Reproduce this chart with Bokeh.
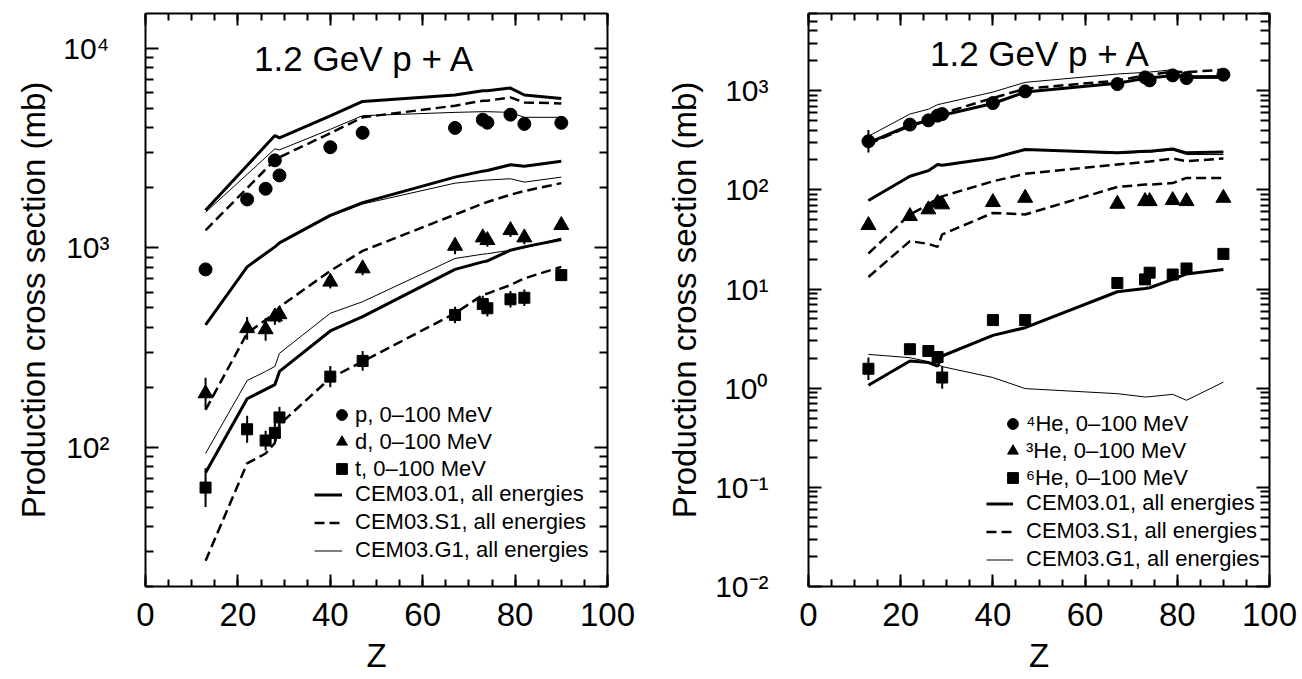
from bokeh.plotting import figure
from bokeh.models import (Range1d, LinearAxis, LogAxis, FixedTicker, SingleIntervalTicker,
                          CustomJSTickFormatter, Legend, LegendItem, Label)
from bokeh.layouts import row
from bokeh.embed import file_html
from bokeh.resources import INLINE

FONT = "Liberation Sans"

# ---------------- data ----------------
Z = [13, 22, 26, 28, 29, 40, 47, 67, 73, 74, 79, 82, 90]

# left panel: p, d, t (experiment, 0-100 MeV)
p_exp = [780, 1750, 1980, 2750, 2310, 3200, 3780, 4000, 4400, 4250, 4660, 4190, 4240]
d_exp = [186, 395, 390, 452, 464, 676, 788, 1023, 1127, 1093, 1226, 1127, 1300]
t_exp = [62.7, 123, 108, 118, 141, 226, 271, 461, 523, 498, 552, 562, 730]
p_err = [0.03, 0.03, 0.03, 0.03, 0.03, 0.03, 0.03, 0.03, 0.03, 0.03, 0.03, 0.03, 0.03]
d_err = [0.20, 0.14, 0.14, 0.10, 0.10, 0.08, 0.08, 0.10, 0.08, 0.08, 0.08, 0.08, 0.05]
t_err = [0.25, 0.17, 0.12, 0.12, 0.13, 0.13, 0.12, 0.10, 0.10, 0.10, 0.10, 0.10, 0.05]

# left panel: models (all energies)
p_01 = [1543, 2591, 3262, 3660, 3565, 4594, 5433, 5851, 6145, 6145, 6339, 5851, 5623]
p_S1 = [1226, 1995, 2477, 2767, 2851, 3763, 4520, 5171, 5477, 5477, 5689, 5370, 5309]
p_G1 = [1508, 2339, 2846, 3140, 3103, 3936, 4608, 4786, 4825, 4825, 4786, 4520, 4520]
d_01 = [411, 803, 938, 1012, 1059, 1457, 1687, 2265, 2427, 2447, 2612, 2570, 2723]
d_S1 = [154, 373, 435, 470, 505, 767, 966, 1469, 1667, 1700, 1849, 1928, 2113]
d_G1 = [411, 803, 938, 1012, 1059, 1440, 1660, 2113, 2181, 2190, 2223, 2138, 2265]
t_01 = [74.5, 175, 195, 206, 240, 383, 452, 780, 851, 860, 974, 1012, 1101]
t_S1 = [26.9, 82.9, 93, 105, 130, 222, 269, 470, 580, 590, 651, 703, 803]
t_G1 = [93, 216, 240, 254, 296, 470, 537, 885, 930, 935, 974, 1000, 1120]

# right panel: 4He, 3He, 6He (experiment, 0-100 MeV)
he4_exp = [309, 455, 502, 560, 581, 750, 984, 1166, 1361, 1270, 1426, 1340, 1449]
he3_exp = [44, 54.2, 63.3, 73.8, 71.1, 75, 82.8, 72.1, 76.7, 76.7, 78.5, 76.7, 82.8]
he6_exp = [1.57, 2.47, 2.37, 2.06, 1.28, 4.86, 4.86, 11.5, 12.5, 14.6, 14.0, 16.1, 22.6]
he4_err = [0.30, 0.08, 0.05, 0.05, 0.05, 0.05, 0.05, 0.04, 0.04, 0.04, 0.04, 0.04, 0.04]
he3_err = [0.05, 0.05, 0.05, 0.05, 0.05, 0.05, 0.05, 0.05, 0.05, 0.05, 0.05, 0.05, 0.05]
he6_err = [0.30, 0.10, 0.10, 0.10, 0.30, 0.08, 0.08, 0.05, 0.05, 0.05, 0.05, 0.05, 0.05]

# right panel: models (all energies)
he4_01 = [297, 448, 500, 545, 565, 742, 968, 1190, 1330, 1340, 1420, 1380, 1390]
he4_S1 = [290, 440, 500, 560, 590, 843, 1047, 1262, 1426, 1440, 1563, 1540, 1626]
he4_G1 = [347, 581, 650, 723, 740, 968, 1213, 1472, 1528, 1540, 1626, 1330, 1330]
he3_01 = [78, 137, 156, 180, 177, 209, 255, 236, 245, 245, 258, 236, 241]
he3_S1 = [22.8, 56.4, 71, 82.8, 86, 122, 145, 180, 191, 193, 207, 194, 207]
he3_G1 = [78, 137, 156, 180, 177, 209, 255, 232, 240, 240, 252, 227, 227]
he6_01 = [1.07, 1.88, 1.81, 1.67, 2.11, 3.41, 4.07, 9.38, 10.1, 10.3, 12.5, 14.2, 15.7]
he6_S1 = [13.2, 30.4, 28.5, 26.6, 35.5, 58.5, 56.4, 107, 113, 113, 117, 132, 132]
he6_G1 = [2.19, 2.03, 1.85, 1.74, 1.65, 1.28, 0.99, 0.88, 0.815, 0.82, 0.867, 0.755, 1.15]

left_decades = [100, 1000, 10000]
right_decades = [0.01, 0.1, 1, 10, 100, 1000]
x_tick_interval = 20

title_text = "1.2 GeV p + A"
y_label = "Production cross section (mb)"
x_label = "Z"
left_markers = ["p, 0\u2013100 MeV", "d, 0\u2013100 MeV", "t, 0\u2013100 MeV"]
right_markers = ["\u2074He, 0\u2013100 MeV", "\u00b3He, 0\u2013100 MeV", "\u2076He, 0\u2013100 MeV"]
model_names = ["CEM03.01, all energies", "CEM03.S1, all energies", "CEM03.G1, all energies"]

# ---------------- helpers ----------------
SUP = CustomJSTickFormatter(code="""
const s = {"-":"\u207b","0":"\u2070","1":"\u00b9","2":"\u00b2","3":"\u00b3","4":"\u2074",
           "5":"\u2075","6":"\u2076","7":"\u2077","8":"\u2078","9":"\u2079"};
const e = Math.round(Math.log10(tick));
return "10" + String(e).split("").map(c => s[c]).join("");
""")
BLANK = CustomJSTickFormatter(code="return ' ';")


def minors(decs):
    bases = [decs[0] / 10] + list(decs)
    return [b * m for b in bases for m in range(2, 10)]


def setup(p, decades, ytick_standoff, ylabel_standoff, ymaj, ymin):
    p.grid.visible = False
    p.outline_line_color = None
    p.background_fill_color = "white"
    p.border_fill_color = "white"
    xt = SingleIntervalTicker(interval=x_tick_interval, num_minor_ticks=4)
    yt = FixedTicker(ticks=decades, minor_ticks=minors(decades))
    xa = p.xaxis[0]
    ya = p.yaxis[0]
    xa.ticker = xt
    ya.ticker = yt
    ya.formatter = SUP
    for ax in (xa, ya):
        ax.axis_line_width = 2
        ax.axis_line_color = "black"
        ax.major_tick_line_width = 2
        ax.minor_tick_line_width = 2
        ax.major_tick_out = 0
        ax.minor_tick_out = 0
        ax.major_label_text_font = FONT
        ax.axis_label_text_font = FONT
        ax.axis_label_text_font_style = "normal"
        ax.axis_label_text_color = "black"
        ax.major_label_text_color = "black"
    xa.major_tick_in = 12
    xa.minor_tick_in = 7
    ya.major_tick_in = ymaj
    ya.minor_tick_in = ymin
    xa.major_label_text_font_size = "33px"
    ya.major_label_text_font_size = "30px"
    xa.axis_label = x_label
    ya.axis_label = y_label
    xa.axis_label_text_font_size = "33px"
    ya.axis_label_text_font_size = "33px"
    xa.major_label_standoff = 16
    xa.axis_label_standoff = 8
    ya.major_label_standoff = ytick_standoff
    ya.axis_label_standoff = ylabel_standoff

    top = LinearAxis(ticker=xt, formatter=BLANK, major_label_text_font_size="2px",
                     major_label_standoff=0, axis_line_width=2, major_tick_line_width=2,
                     minor_tick_line_width=2, major_tick_in=12, major_tick_out=0,
                     minor_tick_in=7, minor_tick_out=0)
    p.add_layout(top, "above")
    right = LogAxis(ticker=yt, formatter=BLANK, major_label_text_font_size="2px",
                    major_label_standoff=0, axis_line_width=2, major_tick_line_width=2,
                    minor_tick_line_width=2, major_tick_in=ymaj, major_tick_out=0,
                    minor_tick_in=ymin, minor_tick_out=0)
    p.add_layout(right, "right")


def draw_species(p, exp, err, marker, size, m01, mS1, mG1):
    lo = [v / (1 + e) for v, e in zip(exp, err)]
    hi = [v * (1 + e) for v, e in zip(exp, err)]
    r1 = p.line(Z, m01, line_color="black", line_width=3)
    r2 = p.line(Z, mS1, line_color="black", line_width=2.5, line_dash="10 5")
    r3 = p.line(Z, mG1, line_color="black", line_width=1)
    p.segment(x0=Z, y0=lo, x1=Z, y1=hi, line_color="black", line_width=2)
    rm = p.scatter(Z, exp, marker=marker, size=size, fill_color="black", line_color="black")
    return rm, (r1, r2, r3)


def legends(p, mk_rs, mk_labels, ln_rs, mk_loc, mk_standoff, ln_loc, ln_gw, ln_standoff):
    common = dict(padding=0, margin=0, border_line_alpha=0, background_fill_alpha=0,
                  label_text_font=FONT, label_text_font_size="22px", label_text_color="black")
    l1 = Legend(items=[LegendItem(label=t, renderers=[r]) for t, r in zip(mk_labels, mk_rs)],
                location=mk_loc, glyph_width=27, glyph_height=27, label_height=20,
                spacing=0, label_standoff=mk_standoff, **common)
    l2 = Legend(items=[LegendItem(label=t, renderers=[r]) for t, r in zip(model_names, ln_rs)],
                location=ln_loc, glyph_width=ln_gw, glyph_height=25, label_height=25,
                spacing=2, label_standoff=ln_standoff, **common)
    p.add_layout(l1)
    p.add_layout(l2)


# ---------------- left panel ----------------
p1 = figure(width=660, height=679, x_range=Range1d(0, 100), y_range=Range1d(20, 15000),
            y_axis_type="log", output_backend="svg", toolbar_location=None,
            min_border_left=145, min_border_right=53, min_border_top=13, min_border_bottom=93)
setup(p1, left_decades, 36, 8, 13, 8)

rp, lp = draw_species(p1, p_exp, p_err, "circle", 13, p_01, p_S1, p_G1)
rd, ld = draw_species(p1, d_exp, d_err, "triangle", 15, d_01, d_S1, d_G1)
rt, lt = draw_species(p1, t_exp, t_err, "square", 11, t_01, t_S1, t_G1)
legends(p1, [rp, rd, rt], left_markers, list(lp), (183, 104), 0, (169, 23), 28, 13)
p1.add_layout(Label(x=47.4, y=8880, text=title_text, text_align="center", text_baseline="middle",
                    text_font=FONT, text_font_size="35px", text_color="black"))

# ---------------- right panel ----------------
p2 = figure(width=642, height=679, x_range=Range1d(0, 100), y_range=Range1d(0.01, 6000),
            y_axis_type="log", output_backend="svg", toolbar_location=None,
            min_border_left=148, min_border_right=33, min_border_top=12, min_border_bottom=93)
setup(p2, right_decades, 40, 9, 13, 9)

r4, l4 = draw_species(p2, he4_exp, he4_err, "circle", 13, he4_01, he4_S1, he4_G1)
r3, l3 = draw_species(p2, he3_exp, he3_err, "triangle", 15, he3_01, he3_S1, he3_G1)
r6, l6 = draw_species(p2, he6_exp, he6_err, "square", 11, he6_01, he6_S1, he6_G1)
legends(p2, [r4, r3, r6], right_markers, list(l4), (191, 95), 0, (178, 14), 27, 13)
p2.add_layout(Label(x=50.3, y=2350, text=title_text, text_align="center", text_baseline="middle",
                    text_font=FONT, text_font_size="35px", text_color="black"))

layout = row(p1, p2)
open("out.html", "w").write(file_html(layout, INLINE))
